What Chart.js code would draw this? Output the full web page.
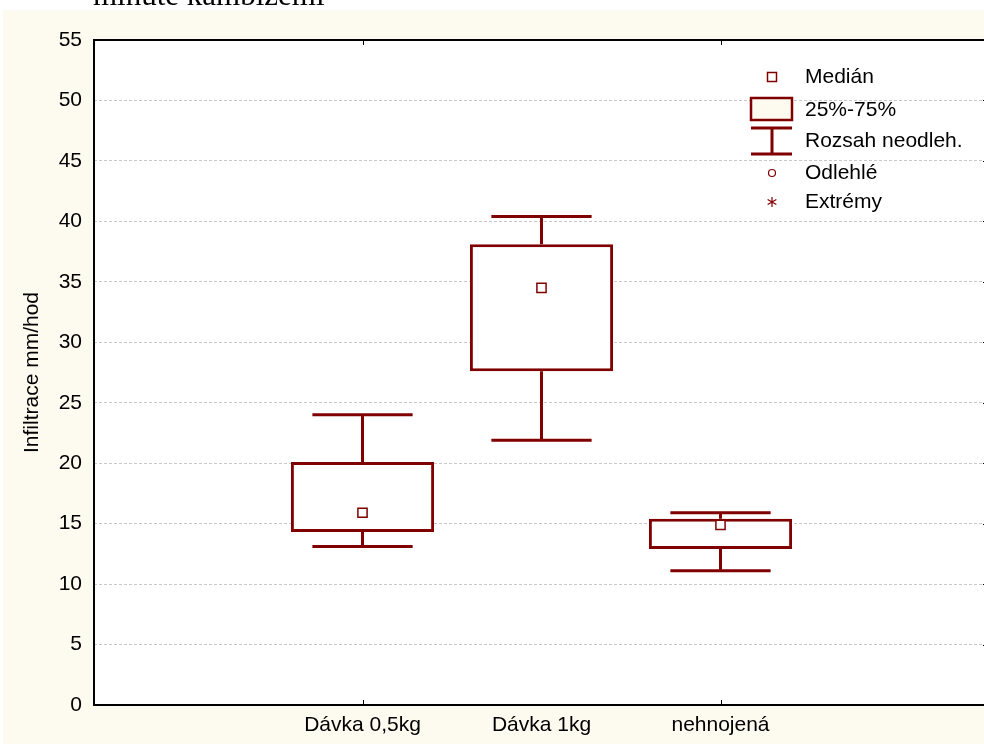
<!DOCTYPE html>
<html>
<head>
<meta charset="utf-8">
<script src="https://cdn.jsdelivr.net/npm/chart.js@4"></script>
<style>
  html, body { margin: 0; padding: 0; background: #fff; overflow: hidden; }
  #wrap { width: 997px; height: 747px; }
</style>
</head>
<body>
<div id="wrap"><canvas id="chart" width="997" height="747"></canvas></div>
<script>
// Box plot data
const categories = ['', 'Dávka 0,5kg', 'Dávka 1kg', 'nehnojená', ''];
const medians = [null, 15.9, 34.5, 14.9, null];
const q1 = [null, 14.3, 27.6, 12.9, null];
const q3 = [null, 20.1, 38.1, 15.4, null];
const whiskerLow = [null, 13.1, 21.9, 11.1, null];
const whiskerHigh = [null, 24.0, 40.4, 15.9, null];
const yTicks = [0, 5, 10, 15, 20, 25, 30, 35, 40, 45, 50, 55];
const tickedCategories = [1, 3];
const legendLabels = ['Medián', '25%-75%', 'Rozsah neodleh.', 'Odlehlé', 'Extrémy'];
const titleText = 'minutě kambizemí';
const yTitle = 'Infiltrace mm/hod';

const DARK_RED = '#800000';
const CREAM = 'rgb(253, 250, 240)';
const FONT = '"Liberation Sans", Arial, sans-serif';

// Page background, cream panel and white plot area
const backgroundPlugin = {
    id: 'background',
    beforeDraw(chart) {
        const { ctx, chartArea: a } = chart;
        ctx.save();
        ctx.fillStyle = '#fff';
        ctx.fillRect(0, 0, chart.width, chart.height);
        ctx.fillStyle = CREAM;
        ctx.fillRect(3, 10, chart.width - 3, chart.height - 13);
        ctx.fillStyle = '#fff';
        ctx.fillRect(a.left, a.top, a.right - a.left, a.bottom - a.top);
        // cut-off title line at the very top
        ctx.fillStyle = '#000';
        ctx.font = '31px "Liberation Serif", "Times New Roman", serif';
        ctx.textBaseline = 'alphabetic';
        ctx.fillText(titleText, 93, 5);
        ctx.restore();
    }
};

// Whiskers with caps
const whiskerPlugin = {
    id: 'whiskers',
    beforeDatasetsDraw(chart) {
        const { ctx, scales: { x, y } } = chart;
        const half = (x.width / categories.length) * 0.28;
        ctx.save();
        ctx.strokeStyle = DARK_RED;
        ctx.lineWidth = 3;
        categories.forEach((c, i) => {
            if (medians[i] === null) return;
            const px = x.getPixelForValue(i);
            ctx.beginPath();
            ctx.moveTo(px, y.getPixelForValue(q3[i]));
            ctx.lineTo(px, y.getPixelForValue(whiskerHigh[i]));
            ctx.moveTo(px, y.getPixelForValue(q1[i]));
            ctx.lineTo(px, y.getPixelForValue(whiskerLow[i]));
            ctx.moveTo(px - half, y.getPixelForValue(whiskerHigh[i]));
            ctx.lineTo(px + half, y.getPixelForValue(whiskerHigh[i]));
            ctx.moveTo(px - half, y.getPixelForValue(whiskerLow[i]));
            ctx.lineTo(px + half, y.getPixelForValue(whiskerLow[i]));
            ctx.stroke();
        });
        ctx.restore();
    }
};

// Frame, inward ticks and the legend
const framePlugin = {
    id: 'frame',
    afterDraw(chart) {
        const { ctx, chartArea: a, scales: { x, y } } = chart;
        ctx.save();
        ctx.strokeStyle = '#000';
        ctx.lineWidth = 2;
        ctx.strokeRect(a.left, a.top, a.right - a.left, a.bottom - a.top);
        ctx.lineWidth = 1;
        ctx.beginPath();
        yTicks.forEach(v => {
            const py = Math.round(y.getPixelForValue(v)) + 0.5;
            ctx.moveTo(a.right, py);
            ctx.lineTo(a.right - 6, py);
        });
        tickedCategories.forEach(i => {
            const px = Math.round(x.getPixelForValue(i)) + 0.5;
            ctx.moveTo(px, a.bottom);
            ctx.lineTo(px, a.bottom - 5);
            ctx.moveTo(px, a.top);
            ctx.lineTo(px, a.top + 5);
        });
        ctx.stroke();

        // legend
        const cx = 772, lx = 751, rx = 792, tx = 805;
        const rows = [77, 110, 141, 173, 202];
        ctx.strokeStyle = DARK_RED;
        ctx.lineWidth = 1.5;
        ctx.strokeRect(cx - 4.5, rows[0] - 4.5, 9, 9);
        ctx.fillStyle = CREAM;
        ctx.lineWidth = 2.5;
        ctx.fillRect(lx, 98, rx - lx, 22);
        ctx.strokeRect(lx, 98, rx - lx, 22);
        ctx.lineWidth = 3;
        ctx.beginPath();
        ctx.moveTo(lx, 128); ctx.lineTo(rx, 128);
        ctx.moveTo(lx, 154); ctx.lineTo(rx, 154);
        ctx.moveTo(cx, 128); ctx.lineTo(cx, 154);
        ctx.stroke();
        ctx.lineWidth = 1.2;
        ctx.beginPath();
        ctx.arc(cx, rows[3], 3.5, 0, Math.PI * 2);
        ctx.stroke();
        ctx.beginPath();
        const r = 5;
        ctx.moveTo(cx, rows[4] - r); ctx.lineTo(cx, rows[4] + r);
        ctx.moveTo(cx - r * 0.87, rows[4] - r / 2); ctx.lineTo(cx + r * 0.87, rows[4] + r / 2);
        ctx.moveTo(cx - r * 0.87, rows[4] + r / 2); ctx.lineTo(cx + r * 0.87, rows[4] - r / 2);
        ctx.stroke();
        ctx.fillStyle = '#000';
        ctx.font = '21px ' + FONT;
        ctx.textBaseline = 'middle';
        legendLabels.forEach((t, i) => ctx.fillText(t, tx, rows[i]));
        ctx.restore();
    }
};

const boxRanges = categories.map((c, i) => (q1[i] === null ? null : [q1[i], q3[i]]));

new Chart(document.getElementById('chart'), {
    type: 'bar',
    data: {
        labels: categories,
        datasets: [
            {
                type: 'line',
                label: 'Medián',
                data: medians,
                showLine: false,
                pointStyle: 'rect',
                pointRadius: 6.5,
                pointBorderWidth: 1.5,
                pointBackgroundColor: '#fff',
                pointBorderColor: DARK_RED,
                order: 0
            },
            {
                label: '25%-75%',
                data: boxRanges,
                backgroundColor: '#fff',
                borderColor: DARK_RED,
                borderWidth: 3,
                borderSkipped: false,
                barPercentage: 0.8,
                categoryPercentage: 1,
                order: 1
            }
        ]
    },
    options: {
        responsive: false,
        animation: false,
        layout: { padding: { top: 40, left: 0, right: 0, bottom: 0 } },
        plugins: {
            legend: { display: false },
            tooltip: { enabled: false }
        },
        scales: {
            x: {
                grid: { display: false, drawTicks: false },
                border: { display: false },
                ticks: {
                    color: '#000',
                    font: { size: 21, family: FONT },
                    padding: 8,
                    maxRotation: 0,
                    autoSkip: false
                },
                afterFit: (s) => { s.height = 42; }
            },
            y: {
                min: 0,
                max: 55,
                afterBuildTicks: (s) => { s.ticks = yTicks.map(v => ({ value: v })); },
                grid: { color: 'rgb(200, 200, 200)', lineWidth: 1, drawTicks: false },
                border: { display: false, dash: [3, 2] },
                ticks: {
                    color: '#000',
                    font: { size: 21, family: FONT },
                    padding: 12
                },
                title: {
                    display: true,
                    text: yTitle,
                    color: '#000',
                    font: { size: 21, family: FONT },
                    padding: { top: 20, bottom: 0 }
                },
                afterFit: (s) => { s.width = 94; }
            }
        }
    },
    plugins: [backgroundPlugin, whiskerPlugin, framePlugin]
});
</script>
</body>
</html>
